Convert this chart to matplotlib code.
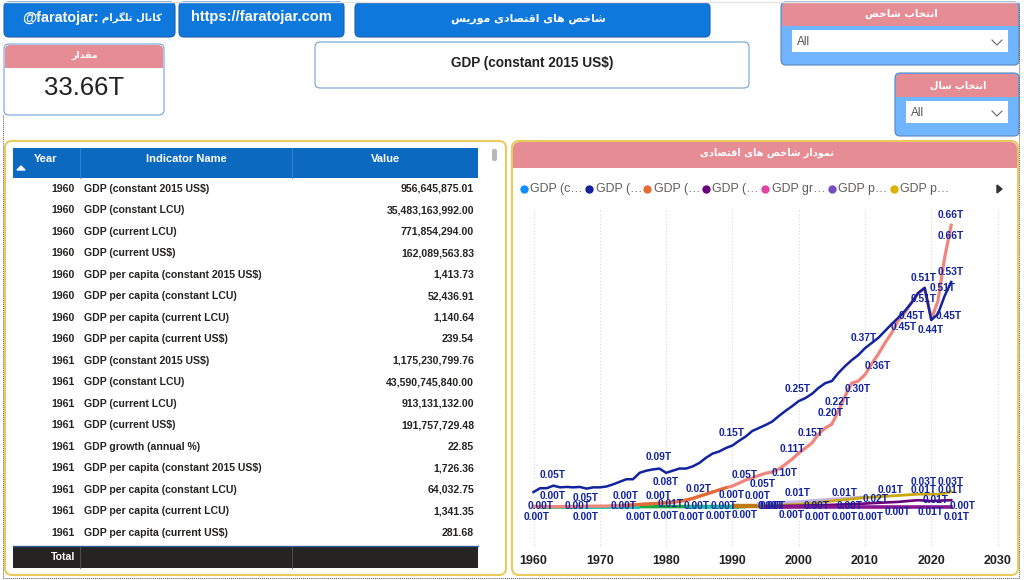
import matplotlib
matplotlib.use("Agg")
import matplotlib.pyplot as plt
from matplotlib.patches import FancyBboxPatch, Rectangle

plt.rcParams['font.family'] = ['Liberation Sans', 'DejaVu Sans']

# table
table_years = [1960] * 8 + [1961] * 9
table_names = ["GDP (constant 2015 US$)", "GDP (constant LCU)", "GDP (current LCU)", "GDP (current US$)",
               "GDP per capita (constant 2015 US$)", "GDP per capita (constant LCU)",
               "GDP per capita (current LCU)", "GDP per capita (current US$)",
               "GDP (constant 2015 US$)", "GDP (constant LCU)", "GDP (current LCU)", "GDP (current US$)",
               "GDP growth (annual %)", "GDP per capita (constant 2015 US$)", "GDP per capita (constant LCU)",
               "GDP per capita (current LCU)", "GDP per capita (current US$)"]
table_values = ["956,645,875.01", "35,483,163,992.00", "771,854,294.00", "162,089,563.83", "1,413.73",
                "52,436.91", "1,140.64", "239.54", "1,175,230,799.76", "43,590,745,840.00", "913,131,132.00",
                "191,757,729.48", "22.85", "1,726.36", "64,032.75", "1,341.35", "281.68"]

# chart series, values in trillions
years = list(range(1960, 2024))
constant_lcu = [.035, .044, .044, .050, .046, .047, .046, .047, .043, .046, .046, .048, .053, .059, .065, .065,
                .080, .085, .088, .090, .080, .085, .090, .090, .095, .103, .115, .125, .130, .138, .144, .155,
                .165, .178, .185, .192, .200, .213, .225, .236, .248, .255, .265, .279, .290, .295, .314, .330,
                .344, .356, .372, .384, .396, .412, .428, .443, .459, .478, .501, .513, .438, .452, .494, .527]
current_lcu = [.001, .001, .001, .001, .001, .001, .001, .001, .002, .002, .002, .002, .003, .003, .004, .005,
               .006, .007, .008, .009, .010, .011, .013, .016, .020, .025, .030, .035, .040, .045, .049, .056,
               .063, .068, .074, .079, .082, .089, .100, .112, .126, .138, .150, .171, .185, .194, .225, .260,
               .290, .295, .310, .335, .358, .384, .407, .436, .455, .478, .500, .513, .440, .482, .583, .660]
orange_years = [1974, 1978, 1980, 1982, 1984, 1986, 1988, 1989]
orange_vals = [.004, .008, .010, .013, .020, .030, .040, .045]
green_years = [1961, 1976, 1983, 1992]
green_vals = [.000, .001, .001, .001]
teal_years = [1964, 1970, 1976, None, 1983, 1991]
teal_vals = [.000, .000, .000, None, .000, .000]
brown_years = [1990, 1994, 1998]
brown_vals = [.002, .002, .002]
lavender_years = [1994, 2000, 2005, 2010]
lavender_vals = [.008, .012, .018, .023]
gold_years = [1995, 2000, 2005, 2010, 2015, 2018, 2020, 2021, 2022, 2023]
gold_vals = [.003, .006, .014, .022, .027, .030, .030, .030, .032, .036]
purple_years = [1995, 2000, 2005, 2010, 2011, 2015, 2018, 2020, 2023]
purple_vals = [.002, .003, .005, .008, .009, .012, .016, .014, .016]
magenta_years = [1995, 2005, 2015, 2023]
magenta_vals = [.001, .001, .001, .001]

legend_labels = ["GDP (c…", "GDP (…", "GDP (…", "GDP (…", "GDP gr…", "GDP p…", "GDP p…"]
legend_colors = ["#118DFF", "#12239E", "#E66C37", "#6B007B", "#E044A7", "#744EC2", "#D9B300"]

label_texts = ["0.05T", "0.00T", "0.05T", "0.00T", "0.09T", "0.08T", "0.00T", "0.02T", "0.15T", "0.05T", "0.00T",
               "0.05T", "0.00T", "0.00T", "0.00T", "0.00T", "0.01T", "0.00T", "0.00T", "0.00T", "0.00T", "0.00T",
               "0.00T", "0.00T", "0.00T", "0.00T", "0.00T", "0.66T", "0.66T", "0.53T", "0.51T", "0.51T", "0.51T",
               "0.45T", "0.45T", "0.45T", "0.44T", "0.37T", "0.36T", "0.25T", "0.30T", "0.22T", "0.20T", "0.15T",
               "0.11T", "0.10T", "0.01T", "0.01T", "0.01T", "0.03T", "0.03T", "0.01T", "0.01T", "0.02T", "0.01T",
               "0.00T", "0.00T", "0.00T", "0.00T", "0.00T", "0.00T", "0.00T", "0.00T", "0.01T", "0.01T", "0.00T"]
label_pos = [(553, 475), (553, 496), (586, 498), (626, 496), (659, 457), (666, 482), (659, 496), (699, 489),
             (732, 433), (745, 475), (732, 495), (763, 484), (758, 496), (541, 506), (578, 506), (624, 506),
             (671, 504), (697, 506), (724, 506), (537, 517), (586, 517), (639, 517), (666, 516), (692, 517),
             (719, 516), (745, 515), (771, 506), (951, 215), (951, 236), (951, 272), (924, 278), (943, 288),
             (924, 299), (912, 316), (949, 316), (904, 327), (931, 330), (864, 338), (878, 366), (798, 389),
             (858, 389), (838, 402), (831, 413), (811, 433), (792, 449), (785, 473), (798, 493), (845, 493),
             (891, 490), (924, 482), (951, 482), (924, 490), (951, 490), (876, 499), (936, 500), (817, 506),
             (850, 506), (963, 506), (792, 515), (818, 517), (845, 517), (871, 517), (898, 512), (931, 512),
             (957, 517), (773, 506)]

# presentation forms: isolated, final, initial, medial
FORMS = {'ا': 'ﺍﺎ', 'ب': 'ﺏﺐﺑﺒ', 'ت': 'ﺕﺖﺗﺘ', 'خ': 'ﺥﺦﺧﺨ', 'د': 'ﺩﺪ', 'ر': 'ﺭﺮ', 'س': 'ﺱﺲﺳﺴ', 'ش': 'ﺵﺶﺷﺸ',
         'ص': 'ﺹﺺﺻﺼ', 'ق': 'ﻕﻖﻗﻘ', 'ک': 'ﮎﮏﮐﮑ', 'گ': 'ﮒﮓﮔﮕ', 'ل': 'ﻝﻞﻟﻠ', 'م': 'ﻡﻢﻣﻤ', 'ن': 'ﻥﻦﻧﻨ', 'و': 'ﻭﻮ',
         'ه': 'ﻩﻪﻫﻬ', 'ی': 'ﯼﯽﯾﯿ'}


# matplotlib has no arabic shaping, so join the letters by hand and flip to visual order
def fa(s):
    out = []
    for i, c in enumerate(s):
        if c not in FORMS:
            out.append(c)
            continue
        prev_joins = i > 0 and s[i - 1] in FORMS and len(FORMS[s[i - 1]]) == 4
        next_joins = i + 1 < len(s) and s[i + 1] in FORMS
        f = FORMS[c]
        if len(f) == 2:
            out.append(f[1] if prev_joins else f[0])
        elif prev_joins and next_joins:
            out.append(f[3])
        elif prev_joins:
            out.append(f[1])
        elif next_joins:
            out.append(f[2])
        else:
            out.append(f[0])
    return ''.join(reversed(out))


BLUE = "#0F78DC"
PINK = "#E58C95"
SKY = "#70B5FF"
EDGE = "#6FA3D8"
YELLOW = "#E8CB5A"
NAVY = "#12239E"

fig = plt.figure(figsize=(10.24, 5.8), dpi=100)
bg = fig.add_axes([0, 0, 1, 1])
bg.set_xlim(0, 1024)
bg.set_ylim(580, 0)
bg.axis('off')


def box(x0, y0, x1, y1, fc='white', ec=EDGE, lw=0.8, r=5):
    bg.add_patch(FancyBboxPatch((x0 + r, y0 + r), x1 - x0 - 2 * r, y1 - y0 - 2 * r,
                                boxstyle="round,pad=%d,rounding_size=%d" % (r, r), fc=fc, ec=ec, lw=lw))


def header(x0, y0, x1, y1, color=PINK, r=5):
    box(x0, y0, x1, y1, fc=color, ec=color, lw=0, r=r)
    bg.add_patch(Rectangle((x0, y0 + r), x1 - x0, y1 - y0 - r, fc=color, ec='none'))


def fa_text(x, y, s, size=8.5, color='white'):
    bg.text(x, y, s, ha='center', va='center', fontsize=size, color=color, family='DejaVu Sans', weight='bold')


# page frame
bg.plot([3, 3], [115, 578], color='#555555', lw=0.7, ls=(0, (1, 1)))
bg.plot([3, 1019], [578, 578], color='#555555', lw=0.7, ls=(0, (1, 1)))
bg.plot([1019, 1019], [2, 578], color='#555555', lw=0.7, ls=(0, (1, 1)))
bg.plot([3, 1019], [2, 2], color='#E4E4E4', lw=1)

# top buttons
box(4, 2, 175, 37, fc=BLUE, ec='#1F5FB0')
box(179, 2, 344, 37, fc=BLUE, ec='#1F5FB0')
box(355, 3, 710, 37, fc=BLUE, ec='#1F5FB0')
bg.text(99, 18, "@faratojar:", ha='right', va='center', fontsize=10.4, color='white', weight='bold')
fa_text(132, 17, fa("کانال تلگرام"), size=7.2)
bg.text(261, 17, "https://faratojar.com", ha='center', va='center', fontsize=10.5, color='white', weight='bold')
fa_text(528, 19, fa("شاخص های اقتصادی موریس"), size=7.8)

# value card
box(4, 44, 164, 115)
header(5, 45, 163, 68)
fa_text(85, 55, fa("مقدار"), size=6.8)
bg.text(84, 88, "33.66T", ha='center', va='center', fontsize=18.5, color='#222222')

# title card
box(315, 42, 749, 88)
bg.text(532, 63, "GDP (constant 2015 US$)", ha='center', va='center', fontsize=9.8, color='#222222', weight='bold')

# slicers
for x0, y0, x1, title, tx, wx0, wx1, tsize in [(781, 2, 1019, "انتخاب شاخص", 901, 792, 1008, 7.5),
                                               (895, 73, 1019, "انتخاب سال", 958, 906, 1008, 7.0)]:
    box(x0, y0, x1, y0 + 63, fc=SKY, ec='#5A86BE')
    header(x0 + 1, y0 + 1, x1 - 1, y0 + 24)
    fa_text(tx, y0 + 12, fa(title), size=tsize)
    bg.add_patch(Rectangle((wx0, y0 + 28), wx1 - wx0, 22, fc='white', ec='none'))
    bg.text(wx0 + 5, y0 + 40, "All", ha='left', va='center', fontsize=8.5, color='#555555')
    bg.plot([wx1 - 16, wx1 - 11, wx1 - 6], [y0 + 38, y0 + 43, y0 + 38], color='#666666', lw=0.8)

# table panel
box(5, 141, 506, 575, ec=YELLOW, lw=1.5, r=7)
bg.add_patch(Rectangle((13, 148), 465, 30, fc='#0B6ABF', ec='none'))
for x in [80, 292]:
    bg.plot([x, x], [148, 178], color='#3F86CC', lw=0.6)
bg.text(46, 159, "Year", ha='center', va='center', fontsize=8, color='white', weight='bold')
bg.text(186, 159, "Indicator Name", ha='center', va='center', fontsize=8, color='white', weight='bold')
bg.text(385, 159, "Value", ha='center', va='center', fontsize=8, color='white', weight='bold')
bg.fill([17, 25, 21], [170, 170, 166], color='white')
for i, (yr, name, val) in enumerate(zip(table_years, table_names, table_values)):
    y = 188.5 + i * 21.53
    bg.text(75, y, str(yr), ha='right', va='center', fontsize=7.6, color='#252423', weight='bold')
    bg.text(84, y, name, ha='left', va='center', fontsize=7.6, color='#252423', weight='bold')
    bg.text(474, y, val, ha='right', va='center', fontsize=7.6, color='#252423', weight='bold')
bg.add_patch(Rectangle((13, 546), 465, 22, fc='#252423', ec='none'))
bg.plot([13, 478], [546, 546], color='#2F5F95', lw=1)
for x in [80, 292]:
    bg.plot([x, x], [546, 568], color='#555555', lw=0.6)
bg.text(75, 557, "Total", ha='right', va='center', fontsize=7.6, color='white', weight='bold')
box(492, 149, 497, 161, fc='#B8B8B8', ec='none', lw=0, r=2)

# chart panel
box(512, 141, 1018, 575, ec=YELLOW, lw=1.5, r=7)
header(513, 142, 1017, 168, r=7)
fa_text(767, 153, fa("نمودار شاخص های اقتصادی"), size=7.0)
for lx, lab, col in zip([524, 589, 647, 706, 765, 832, 894], legend_labels, legend_colors):
    bg.scatter([lx], [189], s=36, color=col, lw=0)
    bg.text(lx + 6.5, 189, lab, ha='left', va='center', fontsize=8.9, color='#605E5C')
bg.fill([997, 1002, 997], [185, 189, 193], color='#333333')

# line chart, scaled so that 1960 and 0 land where they do in the report
ax = fig.add_axes([520 / 1024, 1 - 548 / 580, 490 / 1024, 340 / 580])
ax.patch.set_alpha(0)
ax.set_xlim(1960 + (520 - 533.5) / 6.63, 1960 + (1010 - 533.5) / 6.63)
ax.set_ylim((507 - 548) / 427, (507 - 208) / 427)
ax.set_xticks(range(1960, 2031, 10))
ax.set_yticks([])
ax.tick_params(axis='x', length=0, pad=5)
for t in ax.get_xticklabels():
    t.set_fontsize(9)
    t.set_fontweight('bold')
    t.set_color('#222222')
ax.grid(True, axis='x', color='#D9D9D9', lw=0.8, ls=(0, (1, 2)))
for s in ax.spines.values():
    s.set_visible(False)

ax.plot(green_years, green_vals, color='#1AAB40', lw=2.6, solid_capstyle='butt')
ax.plot(teal_years, teal_vals, color='#15C6AD', lw=2.6, solid_capstyle='butt')
ax.plot(brown_years, brown_vals, color='#C07A10', lw=3.2, solid_capstyle='butt')
ax.plot(lavender_years, lavender_vals, color='#C4B5E6', lw=2.4)
ax.plot(gold_years, gold_vals, color='#C9A80A', lw=2.0)
ax.plot(purple_years, purple_vals, color='#6B007B', lw=1.9)
ax.plot(magenta_years, magenta_vals, color='#8A1590', lw=2.6)
ax.plot(years, current_lcu, color='#F0857F', lw=2.3)
ax.plot(orange_years, orange_vals, color='#E66C37', lw=2.2)
ax.plot(years, constant_lcu, color=NAVY, lw=1.8)

# data labels go above the lines
lab_ax = fig.add_axes([0, 0, 1, 1])
lab_ax.patch.set_alpha(0)
lab_ax.set_xlim(0, 1024)
lab_ax.set_ylim(580, 0)
lab_ax.axis('off')
for txt, (px, py) in zip(label_texts, label_pos):
    lab_ax.text(px, py, txt, ha='center', va='center', fontsize=7.4, color=NAVY, weight='bold')

fig.savefig("out.png", dpi=100)
